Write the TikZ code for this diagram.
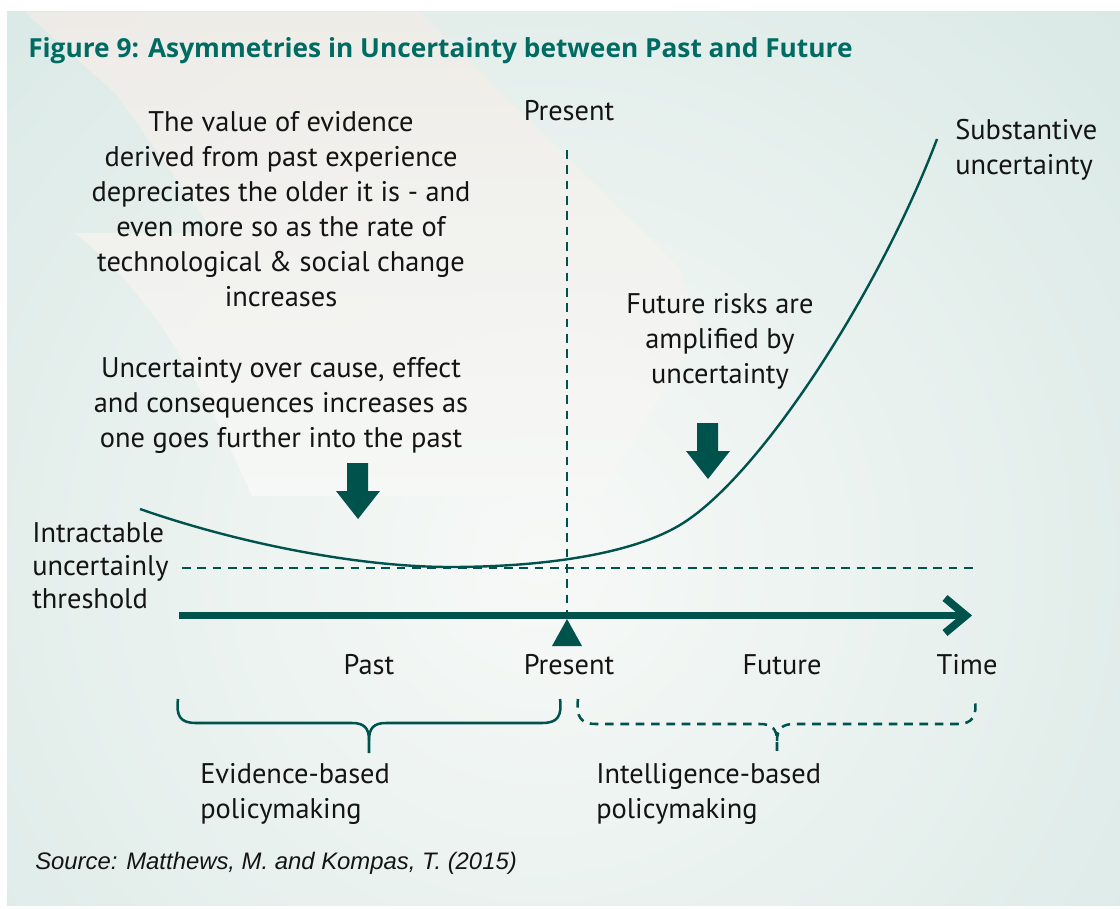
\documentclass[tikz,border=0pt]{standalone}
\usepackage{fontspec}
\setmainfont{PT Sans}
\newfontfamily\srcfont{Liberation Sans}
\newfontfamily\ttlfont{Open Sans}
\definecolor{panel}{HTML}{CBE1DD}
\definecolor{glow}{HTML}{F7F9F7}
\definecolor{bandc}{HTML}{F1ECE7}
\definecolor{dteal}{HTML}{00524D}
\definecolor{tteal}{HTML}{006B63}
\definecolor{ink}{HTML}{141414}
\begin{document}
\begin{tikzpicture}[x=0.75pt,y=-0.75pt,
  lbl/.style={font=\fontsize{21.3}{26.25}\selectfont, text=ink, inner sep=0pt, anchor=base},
  lblc/.style={lbl, align=center},
  lbll/.style={lbl, align=left, anchor=base west},
  thin/.style={draw=dteal, line width=1.5pt},
  dashy/.style={thin, dash pattern=on 6.5pt off 5pt},
  blockarrow/.style={fill=dteal, draw=none}]
\useasboundingbox (0,0) rectangle (1120,909);
\fill[white] (0,0) rectangle (1120,909);
% panel background
\fill[panel] (7,12) rectangle (1120,905);
\begin{scope}
  \clip (7,12) rectangle (1120,905);
  \shade[inner color=glow, outer color=panel] (540,560) circle (1200);
  \shade[top color=bandc, bottom color=glow, opacity=0.85] (25,12) -- (420,12) -- (560,150) -- (679,267) -- (700,330) -- (600,496) -- (252,496)
     .. controls (200,380) and (150,290) .. (74,233) -- (215,233) -- (116,94) -- cycle;
\end{scope}
% title
\node[anchor=base west, inner sep=0pt, font=\ttlfont\fontsize{19.7}{23}\selectfont\bfseries, text=tteal] (title) at (28,58)
  {Figure 9: Asymmetries in Uncertainty between Past and Future};
% text blocks (anchor = baseline of last line)
\node[lblc] (value) at (281,306) {The value of evidence\\derived from past experience\\depreciates the older it is - and\\even more so as the rate of\\technological \& social change\\increases};
\node[lblc] (uncert) at (281,447) {Uncertainty over cause, effect\\and consequences increases as\\one goes further into the past};
\node[lblc] (future) at (720,383) {Future risks are\\amplified by\\uncertainty};
\node[lbll] (subst) at (955,175) {Substantive\\uncertainty};
\node[lbll, font=\fontsize{21.3}{24.75}\selectfont] (intract) at (32,608) {Intractable\\uncertainly\\threshold};
\node[lbl] (presTop) at (569,121) {Present};
% dashed present line and threshold
\coordinate (vtop) at (567,150);
\coordinate (vbot) at (567,612);
\draw[dashy] (vtop) -- (vbot);
\coordinate (thA) at (182,568);
\coordinate (thB) at (975,568);
\draw[dashy] (thA) -- (thB);
% curve
\coordinate (cA) at (140,509);
\coordinate (cB) at (450,567);
\coordinate (cC) at (680,525);
\coordinate (cD) at (937,139);
\draw[thin, line width=1.8pt] (cA) .. controls (240,544) and (360,567) .. (cB)
  .. controls (540,567) and (630,555) .. (cC)
  .. controls (760,477) and (880,290) .. (cD);
% block arrows
\fill[blockarrow] (347,463) -- (368,463) -- (368,491) -- (380,491) -- (358,519) -- (336,491) -- (347,491) -- cycle;
\fill[blockarrow] (697,423) -- (718,423) -- (718,451) -- (730,451) -- (708,479) -- (686,451) -- (697,451) -- cycle;
% timeline
\coordinate (tlA) at (179,615.5);
\coordinate (tlB) at (964,615.5);
\draw[dteal, line width=5.8pt] (tlA) -- (tlB);
\draw[dteal, line width=5.8pt, miter limit=10] (945,598) -- (966,615.5) -- (945,633);
\fill[dteal] (552,646) -- (582,646) -- (567,619) -- cycle;
% axis labels
\node[lbl] (past) at (369,674) {Past};
\node[lbl] (present) at (569,674) {Present};
\node[lbl] (fut) at (782,674) {Future};
\node[lbl] (time) at (967,674) {Time};
% braces
\draw[thin, line width=1.9pt] (178,699) .. controls (176,716) and (180,723) .. (196,723) -- (352,723)
   .. controls (364,723) and (369,728) .. (369,740) -- (369,753);
\draw[thin, line width=1.9pt] (369,740) .. controls (369,728) and (374,723) .. (386,723) -- (542,723)
   .. controls (558,723) and (562,716) .. (560,699);
\draw[dashy, line width=1.9pt] (578,699) .. controls (576,716) and (580,724) .. (596,724) -- (760,724)
   .. controls (772,724) and (777,729) .. (777,741) -- (777,753);
\draw[dashy, line width=1.9pt] (777,741) .. controls (777,729) and (782,724) .. (794,724) -- (957,724)
   .. controls (973,724) and (977,716) .. (975,699);
\node[lbll] (ebp) at (200,818) {Evidence-based\\policymaking};
\node[lbll] (ibp) at (596,818) {Intelligence-based\\policymaking};
\node[anchor=base west, inner sep=0pt, font=\srcfont\itshape\fontsize{17.9}{21}\selectfont, text=ink] (src) at (35,869) {Source: Matthews, M. and Kompas, T. (2015)};
\end{tikzpicture}
\end{document}
